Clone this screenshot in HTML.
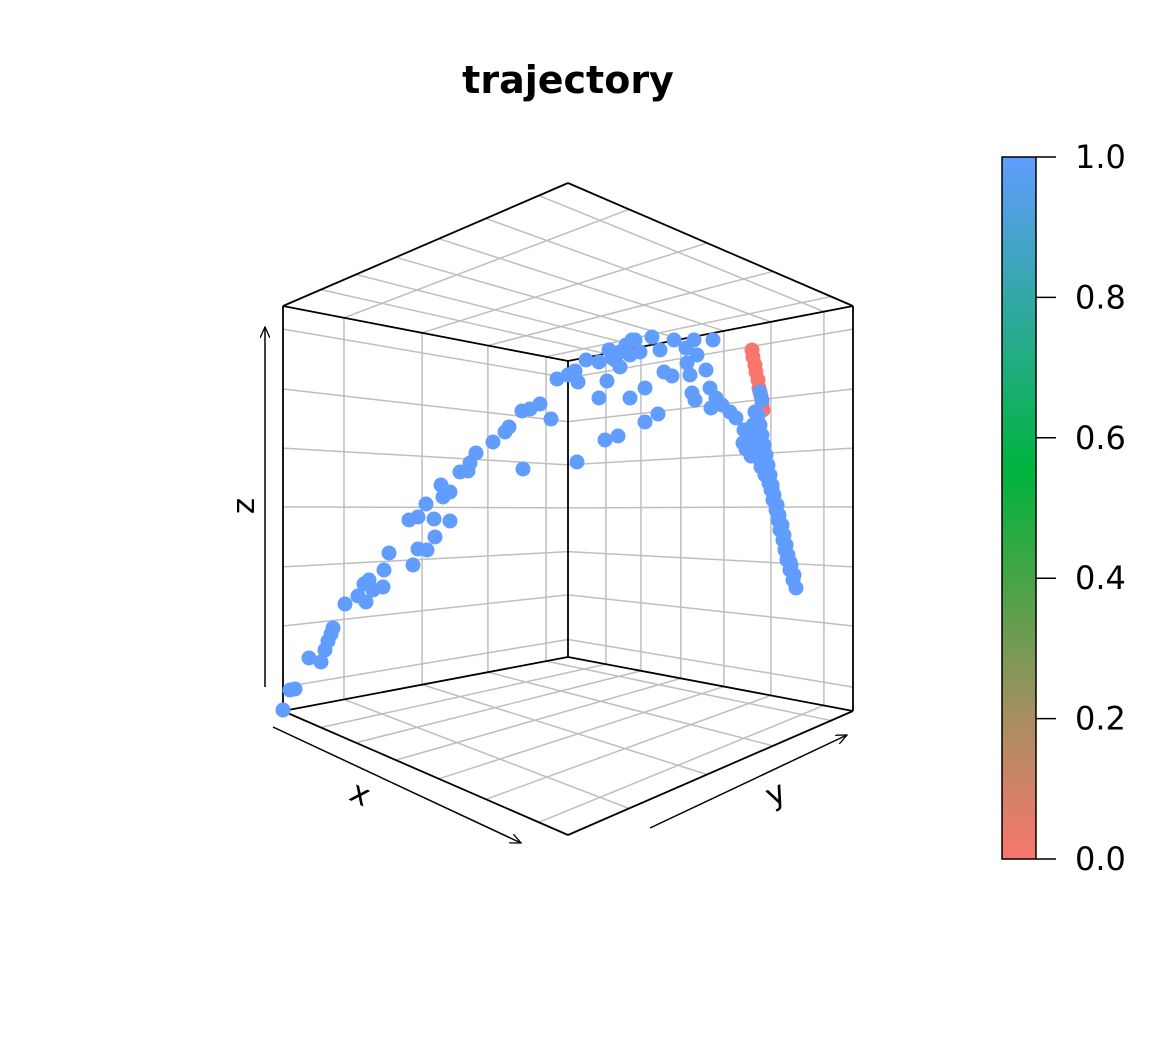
<!DOCTYPE html>
<html><head><meta charset="utf-8"><style>
html,body{margin:0;padding:0;background:#fff;}
svg{display:block;font-family:"DejaVu Sans","Liberation Sans",sans-serif;}
</style></head><body>
<svg id="chart" width="1152" height="1056" viewBox="0 0 1152 1056">
<defs>
<linearGradient id="cb" x1="0" y1="1" x2="0" y2="0">
<stop offset="0" stop-color="#F8766D"/><stop offset="0.2" stop-color="#A88E62"/>
<stop offset="0.4" stop-color="#45A545"/><stop offset="0.55" stop-color="#00B43E"/>
<stop offset="0.8" stop-color="#33A8A6"/><stop offset="1" stop-color="#619CFF"/>
</linearGradient>
<marker id="arr" markerWidth="12" markerHeight="10" refX="11" refY="5" orient="auto" markerUnits="userSpaceOnUse"><path d="M0,0 L11,5 L0,10" fill="none" stroke="#000" stroke-width="1.3"/></marker>
</defs>
<text x="568" y="93" text-anchor="middle" font-size="38" font-weight="bold">trajectory</text>
<g id="grid"></g>
<g id="box"></g>
<g id="pts"></g>
<line x1="265" y1="687" x2="265" y2="327" stroke="#000" stroke-width="1.5" marker-end="url(#arr)"/>
<text x="0" y="0" transform="translate(254,506) rotate(-90)" text-anchor="middle" font-size="31">z</text>
<line x1="273" y1="727" x2="521" y2="843" stroke="#000" stroke-width="1.5" marker-end="url(#arr)"/>
<text x="0" y="0" transform="translate(356,803) rotate(25)" text-anchor="middle" font-size="31">x</text>
<line x1="650" y1="828" x2="847" y2="735" stroke="#000" stroke-width="1.5" marker-end="url(#arr)"/>
<text x="0" y="0" transform="translate(780,803) rotate(-25)" text-anchor="middle" font-size="31">y</text>
<rect x="1002" y="157" width="34" height="702" fill="url(#cb)" stroke="#000" stroke-width="1.5"/>
<g id="cbt"></g>
</svg>
<script>
// data (u = horizontal screen-space data unit, v = height data unit, c = color value)
const uVals=[0,7,12,26,38,42,45,48,50,62,75,83,81,86,90,100,101,106,130,135,144,152,167,126,135,151,143,160,167,158,177,185,187,193,210,222,226,240,239,247,257,268,274,285,295,292,303,316,329,326,294,322,335,316,324,337,347,352,357,343,369,377,362,347,362,375,381,389,391,403,411,430,414,404,407,423,427,409,412,428,433,439,447,453,461,460,467,477,337,349,332,
469,470,472,473,475,476,478,479,480,
477,479,472,474,476,478,480,482,484,486,488,490,493,495,497,500,502,504,507,510,513,479,484,489,494,499,503,507,466,470,
475,477,479,481,483,485,487,489,491,494,496,498,501,503,505,508,511,463,468,473,478,482,486];
const vVals=[1,21,22,53,49,61,70,77,83,107,115,109,127,131,121,124,141,158,146,162,161,174,190,191,194,192,207,214,219,226,239,240,248,258,269,279,284,242,300,302,307,292,332,336,329,340,351,349,353,361,249,271,275,313,330,344,356,371,359,366,374,361,323,313,289,297,339,335,371,363,371,371,356,348,336,341,323,318,311,303,313,306,299,293,281,268,265,251,359,371,351,
361,354,346,339,331,323,315,307,301,
319,311,299,291,281,271,261,251,241,231,221,211,201,191,181,171,161,151,141,131,123,266,246,223,206,186,166,149,275,286,
296,286,276,266,256,246,236,226,216,206,196,186,176,166,156,146,136,262,255,258,244,236,228];
const cVals=uVals.map((_,i)=>(i>=91&&i<100)?0:1);
const cbTicks=[0,0.2,0.4,0.6,0.8,1.0];
const cbLabels=["0.0","0.2","0.4","0.6","0.8","1.0"];

const NS="http://www.w3.org/2000/svg";
const sx=u=>283+u; const sy=v=>711-v;
const colorOf=c=>c>0.5?"#619CFF":"#F8766D";
const cbY=t=>859-t*702;

function mk(tag,attrs,parent){const e=document.createElementNS(NS,tag);for(const k in attrs)e.setAttribute(k,attrs[k]);parent.appendChild(e);return e;}
const lerp=(a,b,t)=>[a[0]+(b[0]-a[0])*t,a[1]+(b[1]-a[1])*t];
const g=document.getElementById('grid'), bx=document.getElementById('box');
const TL=[283,306],TB=[568,361],TR=[853,306],TF=[568,183];
const BL=[283,711],BB=[568,657],BR=[853,711],BF=[568,835];
const tLeft=[0.214,0.488,0.719,0.923], tRight=[0.133,0.256,0.396,0.547,0.712,0.898];
const zl=[0.057,0.205,0.351,0.496,0.644,0.790,0.941];
function gl(a,b){const l=mk('line',{x1:a[0],y1:a[1],x2:b[0],y2:b[1],stroke:'#BEBEBE','stroke-width':1.5},g);

}
tLeft.forEach(t=>{gl(lerp(TL,TB,t),lerp(BL,BB,t));gl(lerp(TL,TB,t),lerp(TF,TR,t));gl(lerp(BL,BB,t),lerp(BF,BR,t));});
tRight.forEach(t=>{gl(lerp(TB,TR,t),lerp(BB,BR,t));gl(lerp(TB,TR,t),lerp(TL,TF,t));gl(lerp(BB,BR,t),lerp(BL,BF,t));});
zl.forEach(z=>{gl(lerp(TL,BL,z),lerp(TB,BB,z));gl(lerp(TB,BB,z),lerp(TR,BR,z));});
function bl(a,b){const l=mk('line',{x1:a[0],y1:a[1],x2:b[0],y2:b[1],stroke:'#000','stroke-width':1.8},bx);

}
[[TL,TF],[TF,TR],[TR,TB],[TB,TL],[TL,BL],[TR,BR],[TB,BB],[BL,BB],[BB,BR],[BR,BF],[BF,BL]].forEach(p=>bl(p[0],p[1]));

const pg=document.getElementById('pts');
for(let i=0;i<uVals.length;i++){
 const c=mk('circle',{cx:sx(uVals[i]),cy:sy(vVals[i]),r:7.5,fill:colorOf(cVals[i])},pg);
 
 
}
const tg=document.getElementById('cbt');
cbTicks.forEach((t,i)=>{
 const l=mk('line',{x1:1036,y1:cbY(t),x2:1056,y2:cbY(t),stroke:'#000','stroke-width':1.5},tg);
 
 
 const tx=mk('text',{x:1075,y:cbY(t)+11,'font-size':32},tg);
 tx.textContent=cbLabels[i];
 
 
});
</script>
</body></html>
